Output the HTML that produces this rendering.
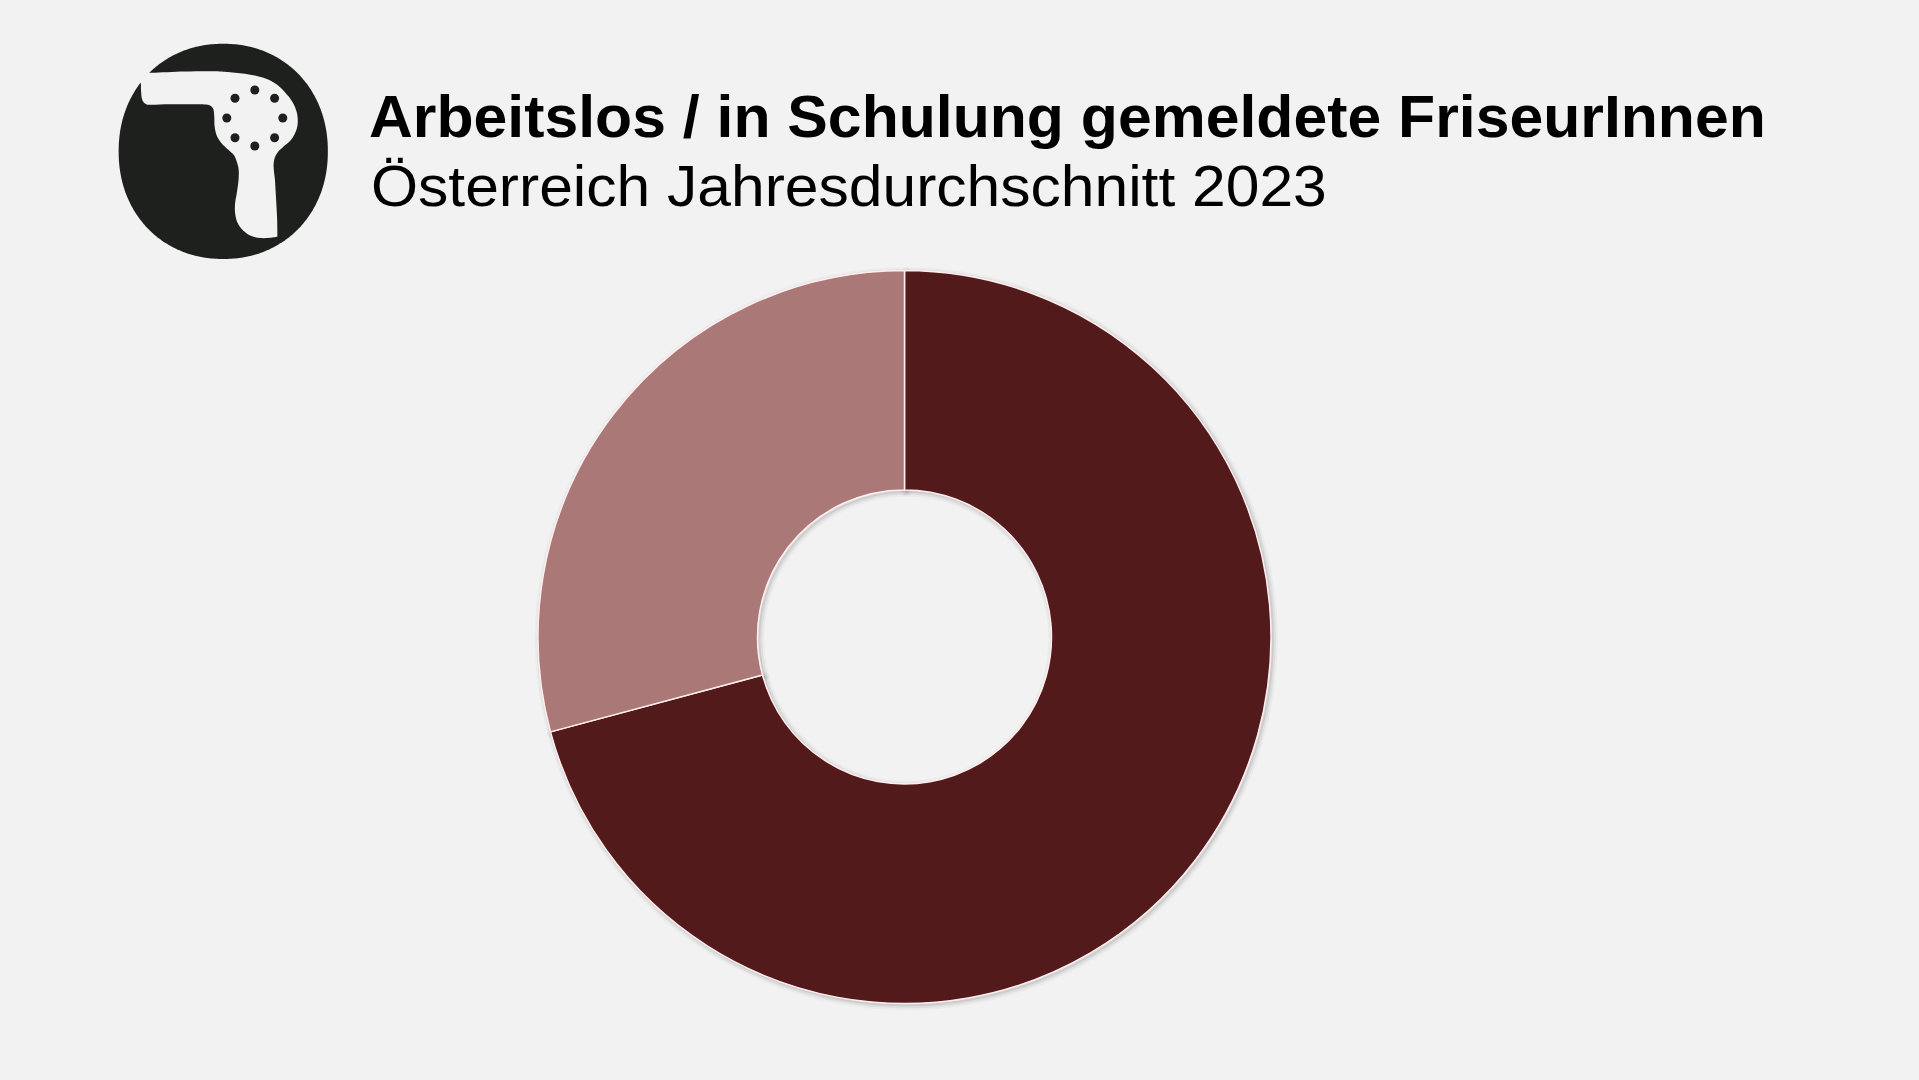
<!DOCTYPE html>
<html><head><meta charset="utf-8"><style>
html,body{margin:0;padding:0;}
body{width:1919px;height:1080px;background:#f2f2f2;position:relative;overflow:hidden;font-family:"Liberation Sans",sans-serif;color:#000;}
svg{position:absolute;left:0;top:0;}
.t{position:absolute;white-space:nowrap;line-height:1;transform-origin:0 0;}
#title{left:369px;top:87px;font-size:60px;font-weight:bold;transform:scaleX(1.012);}
#sub{left:370.5px;top:158px;font-size:57.5px;font-weight:normal;transform:scaleX(1.053);}
</style></head><body>
<svg width="1919" height="1080" viewBox="0 0 1919 1080">

<path d="M 327.85,151.40 L 327.83,153.68 L 327.79,155.81 L 327.71,157.88 L 327.61,159.92 L 327.47,161.93 L 327.30,163.92 L 327.11,165.90 L 326.88,167.85 L 326.62,169.79 L 326.34,171.71 L 326.02,173.62 L 325.67,175.51 L 325.30,177.39 L 324.89,179.25 L 324.45,181.10 L 323.99,182.94 L 323.49,184.76 L 322.97,186.56 L 322.42,188.35 L 321.83,190.13 L 321.22,191.89 L 320.58,193.64 L 319.92,195.37 L 319.22,197.08 L 318.49,198.78 L 317.74,200.46 L 316.96,202.12 L 316.16,203.77 L 315.32,205.40 L 314.46,207.01 L 313.57,208.60 L 312.65,210.17 L 311.71,211.72 L 310.75,213.26 L 309.75,214.77 L 308.73,216.27 L 307.69,217.74 L 306.62,219.19 L 305.52,220.62 L 304.40,222.03 L 303.26,223.42 L 302.09,224.79 L 300.90,226.13 L 299.68,227.45 L 298.44,228.75 L 297.18,230.02 L 295.90,231.27 L 294.59,232.50 L 293.27,233.70 L 291.92,234.88 L 290.54,236.03 L 289.15,237.16 L 287.74,238.26 L 286.31,239.33 L 284.86,240.38 L 283.38,241.40 L 281.89,242.40 L 280.38,243.37 L 278.85,244.31 L 277.31,245.22 L 275.74,246.11 L 274.16,246.97 L 272.56,247.80 L 270.94,248.60 L 269.31,249.38 L 267.66,250.12 L 265.99,250.84 L 264.31,251.52 L 262.61,252.18 L 260.90,252.81 L 259.17,253.41 L 257.43,253.98 L 255.68,254.52 L 253.91,255.03 L 252.12,255.51 L 250.32,255.95 L 248.51,256.37 L 246.69,256.76 L 244.85,257.12 L 242.99,257.44 L 241.12,257.74 L 239.24,258.00 L 237.34,258.24 L 235.43,258.44 L 233.49,258.61 L 231.53,258.75 L 229.55,258.86 L 227.53,258.94 L 225.46,258.98 L 223.25,259.00 L 221.04,258.98 L 218.97,258.94 L 216.95,258.86 L 214.97,258.75 L 213.01,258.61 L 211.07,258.44 L 209.16,258.24 L 207.26,258.00 L 205.38,257.74 L 203.51,257.44 L 201.65,257.12 L 199.81,256.76 L 197.99,256.37 L 196.18,255.95 L 194.38,255.51 L 192.59,255.03 L 190.82,254.52 L 189.07,253.98 L 187.33,253.41 L 185.60,252.81 L 183.89,252.18 L 182.19,251.52 L 180.51,250.84 L 178.84,250.12 L 177.19,249.38 L 175.56,248.60 L 173.94,247.80 L 172.34,246.97 L 170.76,246.11 L 169.19,245.22 L 167.65,244.31 L 166.12,243.37 L 164.61,242.40 L 163.12,241.40 L 161.64,240.38 L 160.19,239.33 L 158.76,238.26 L 157.35,237.16 L 155.96,236.03 L 154.58,234.88 L 153.23,233.70 L 151.91,232.50 L 150.60,231.27 L 149.32,230.02 L 148.06,228.75 L 146.82,227.45 L 145.60,226.13 L 144.41,224.79 L 143.24,223.42 L 142.10,222.03 L 140.98,220.62 L 139.88,219.19 L 138.81,217.74 L 137.77,216.27 L 136.75,214.77 L 135.75,213.26 L 134.79,211.72 L 133.85,210.17 L 132.93,208.60 L 132.04,207.01 L 131.18,205.40 L 130.34,203.77 L 129.54,202.12 L 128.76,200.46 L 128.01,198.78 L 127.28,197.08 L 126.58,195.37 L 125.92,193.64 L 125.28,191.89 L 124.67,190.13 L 124.08,188.35 L 123.53,186.56 L 123.01,184.76 L 122.51,182.94 L 122.05,181.10 L 121.61,179.25 L 121.20,177.39 L 120.83,175.51 L 120.48,173.62 L 120.16,171.71 L 119.88,169.79 L 119.62,167.85 L 119.39,165.90 L 119.20,163.92 L 119.03,161.93 L 118.89,159.92 L 118.79,157.88 L 118.71,155.81 L 118.67,153.68 L 118.65,151.40 L 118.67,149.12 L 118.71,146.99 L 118.79,144.92 L 118.89,142.88 L 119.03,140.87 L 119.20,138.88 L 119.39,136.90 L 119.62,134.95 L 119.88,133.01 L 120.16,131.09 L 120.48,129.18 L 120.83,127.29 L 121.20,125.41 L 121.61,123.55 L 122.05,121.70 L 122.51,119.86 L 123.01,118.04 L 123.53,116.24 L 124.08,114.45 L 124.67,112.67 L 125.28,110.91 L 125.92,109.16 L 126.58,107.43 L 127.28,105.72 L 128.01,104.02 L 128.76,102.34 L 129.54,100.68 L 130.34,99.03 L 131.18,97.40 L 132.04,95.79 L 132.93,94.20 L 133.85,92.63 L 134.79,91.08 L 135.75,89.54 L 136.75,88.03 L 137.77,86.53 L 138.81,85.06 L 139.88,83.61 L 140.98,82.18 L 142.10,80.77 L 143.24,79.38 L 144.41,78.01 L 145.60,76.67 L 146.82,75.35 L 148.06,74.05 L 149.32,72.78 L 150.60,71.53 L 151.91,70.30 L 153.23,69.10 L 154.58,67.92 L 155.96,66.77 L 157.35,65.64 L 158.76,64.54 L 160.19,63.47 L 161.64,62.42 L 163.12,61.40 L 164.61,60.40 L 166.12,59.43 L 167.65,58.49 L 169.19,57.58 L 170.76,56.69 L 172.34,55.83 L 173.94,55.00 L 175.56,54.20 L 177.19,53.42 L 178.84,52.68 L 180.51,51.96 L 182.19,51.28 L 183.89,50.62 L 185.60,49.99 L 187.33,49.39 L 189.07,48.82 L 190.82,48.28 L 192.59,47.77 L 194.38,47.29 L 196.18,46.85 L 197.99,46.43 L 199.81,46.04 L 201.65,45.68 L 203.51,45.36 L 205.38,45.06 L 207.26,44.80 L 209.16,44.56 L 211.07,44.36 L 213.01,44.19 L 214.97,44.05 L 216.95,43.94 L 218.97,43.86 L 221.04,43.82 L 223.25,43.80 L 225.46,43.82 L 227.53,43.86 L 229.55,43.94 L 231.53,44.05 L 233.49,44.19 L 235.43,44.36 L 237.34,44.56 L 239.24,44.80 L 241.12,45.06 L 242.99,45.36 L 244.85,45.68 L 246.69,46.04 L 248.51,46.43 L 250.32,46.85 L 252.12,47.29 L 253.91,47.77 L 255.68,48.28 L 257.43,48.82 L 259.17,49.39 L 260.90,49.99 L 262.61,50.62 L 264.31,51.28 L 265.99,51.96 L 267.66,52.68 L 269.31,53.42 L 270.94,54.20 L 272.56,55.00 L 274.16,55.83 L 275.74,56.69 L 277.31,57.58 L 278.85,58.49 L 280.38,59.43 L 281.89,60.40 L 283.38,61.40 L 284.86,62.42 L 286.31,63.47 L 287.74,64.54 L 289.15,65.64 L 290.54,66.77 L 291.92,67.92 L 293.27,69.10 L 294.59,70.30 L 295.90,71.53 L 297.18,72.78 L 298.44,74.05 L 299.68,75.35 L 300.90,76.67 L 302.09,78.01 L 303.26,79.38 L 304.40,80.77 L 305.52,82.18 L 306.62,83.61 L 307.69,85.06 L 308.73,86.53 L 309.75,88.03 L 310.75,89.54 L 311.71,91.08 L 312.65,92.63 L 313.57,94.20 L 314.46,95.79 L 315.32,97.40 L 316.16,99.03 L 316.96,100.68 L 317.74,102.34 L 318.49,104.02 L 319.22,105.72 L 319.92,107.43 L 320.58,109.16 L 321.22,110.91 L 321.83,112.67 L 322.42,114.45 L 322.97,116.24 L 323.49,118.04 L 323.99,119.86 L 324.45,121.70 L 324.89,123.55 L 325.30,125.41 L 325.67,127.29 L 326.02,129.18 L 326.34,131.09 L 326.62,133.01 L 326.88,134.95 L 327.11,136.90 L 327.30,138.88 L 327.47,140.87 L 327.61,142.88 L 327.71,144.92 L 327.79,146.99 L 327.83,149.12 Z" fill="#1e201d"/>
<path d="M 128.00,73.60 C 128.00,73.60 141.63,73.17 151.10,72.80 C 160.57,72.43 174.15,71.67 184.80,71.40 C 195.45,71.13 207.47,71.07 215.00,71.20 C 222.53,71.33 225.03,71.78 230.00,72.20 C 234.97,72.62 239.87,72.95 244.80,73.70 C 249.73,74.45 255.28,75.53 259.60,76.70 C 263.92,77.87 267.23,78.92 270.70,80.70 C 274.17,82.48 277.55,84.92 280.40,87.40 C 283.25,89.88 285.70,93.00 287.80,95.60 C 289.90,98.20 291.52,100.28 293.00,103.00 C 294.48,105.72 295.90,108.95 296.70,111.90 C 297.50,114.85 297.75,118.02 297.80,120.70 C 297.85,123.38 297.57,125.72 297.00,128.00 C 296.43,130.28 295.57,132.22 294.40,134.40 C 293.23,136.58 291.85,139.05 290.00,141.10 C 288.15,143.15 285.33,144.85 283.30,146.70 C 281.27,148.55 279.23,150.35 277.80,152.20 C 276.37,154.05 275.40,155.77 274.70,157.80 C 274.00,159.83 273.72,162.03 273.60,164.40 C 273.48,166.77 273.77,169.33 274.00,172.00 C 274.23,174.67 274.67,176.10 275.00,180.40 C 275.33,184.70 275.65,191.43 276.00,197.80 C 276.35,204.17 276.87,212.12 277.10,218.60 C 277.33,225.08 277.40,236.70 277.40,236.70 C 277.40,236.70 272.82,237.47 270.10,237.70 C 267.38,237.93 264.22,238.38 261.10,238.10 C 257.98,237.82 254.40,237.28 251.40,236.00 C 248.40,234.72 245.42,232.60 243.10,230.40 C 240.78,228.20 238.83,225.68 237.50,222.80 C 236.17,219.92 235.50,216.35 235.10,213.10 C 234.70,209.85 234.82,206.67 235.10,203.30 C 235.38,199.93 236.23,196.72 236.80,192.90 C 237.37,189.08 238.18,184.22 238.50,180.40 C 238.82,176.58 238.92,172.88 238.70,170.00 C 238.48,167.12 237.93,165.48 237.20,163.10 C 236.47,160.72 235.78,157.92 234.30,155.70 C 232.82,153.48 230.53,152.02 228.30,149.80 C 226.07,147.58 222.87,144.87 220.90,142.40 C 218.93,139.93 217.55,137.72 216.50,135.00 C 215.45,132.28 214.97,129.07 214.60,126.10 C 214.23,123.13 214.48,119.92 214.30,117.20 C 214.12,114.48 214.07,111.65 213.50,109.80 C 212.93,107.95 212.13,106.97 210.90,106.10 C 209.67,105.23 208.75,104.90 206.10,104.60 C 203.45,104.30 201.02,104.35 195.00,104.30 C 188.98,104.25 177.50,104.22 170.00,104.30 C 162.50,104.38 154.17,104.93 150.00,104.80 C 145.83,104.67 146.33,104.47 145.00,103.50 C 143.67,102.53 142.67,101.25 142.00,99.00 C 141.33,96.75 141.17,92.33 141.00,90.00 C 140.83,87.67 141.00,85.00 141.00,85.00 C 141.00,85.00 139.60,77.00 139.60,77.00 C 139.60,77.00 128.00,70.00 128.00,70.00 C 128.00,70.00 128.00,73.60 128.00,73.60 Z" fill="#f2f2f2"/>
<g fill="#1e201d"><circle cx="254.8" cy="90.0" r="4.5"/><circle cx="274.6" cy="98.2" r="4.5"/><circle cx="282.8" cy="118.0" r="4.5"/><circle cx="274.6" cy="137.8" r="4.5"/><circle cx="254.8" cy="146.0" r="4.5"/><circle cx="235.0" cy="137.8" r="4.5"/><circle cx="226.8" cy="118.0" r="4.5"/><circle cx="235.0" cy="98.2" r="4.5"/></g>
<g transform="translate(1.8,1.8)" fill="none" stroke="#000" stroke-linejoin="round"><path d="M 904.50,270.50 A 366.5,366.5 0 1 1 550.49,731.86 L 762.51,675.05 A 147,147 0 1 0 904.50,490.00 Z" stroke-opacity="0.027" stroke-width="10.00"/><path d="M 904.50,270.50 A 366.5,366.5 0 1 1 550.49,731.86 L 762.51,675.05 A 147,147 0 1 0 904.50,490.00 Z" stroke-opacity="0.053" stroke-width="6.00"/><path d="M 904.50,270.50 A 366.5,366.5 0 1 1 550.49,731.86 L 762.51,675.05 A 147,147 0 1 0 904.50,490.00 Z" stroke-opacity="0.080" stroke-width="2.00"/><path d="M 550.49,731.86 A 366.5,366.5 0 0 1 904.50,270.50 L 904.50,490.00 A 147,147 0 0 0 762.51,675.05 Z" stroke-opacity="0.027" stroke-width="10.00"/><path d="M 550.49,731.86 A 366.5,366.5 0 0 1 904.50,270.50 L 904.50,490.00 A 147,147 0 0 0 762.51,675.05 Z" stroke-opacity="0.053" stroke-width="6.00"/><path d="M 550.49,731.86 A 366.5,366.5 0 0 1 904.50,270.50 L 904.50,490.00 A 147,147 0 0 0 762.51,675.05 Z" stroke-opacity="0.080" stroke-width="2.00"/></g>
<path d="M 904.50,270.50 A 366.5,366.5 0 1 1 550.49,731.86 L 762.51,675.05 A 147,147 0 1 0 904.50,490.00 Z" fill="#531a1c" stroke="#ffeeee" stroke-width="1.5" stroke-linejoin="round"/>
<path d="M 550.49,731.86 A 366.5,366.5 0 0 1 904.50,270.50 L 904.50,490.00 A 147,147 0 0 0 762.51,675.05 Z" fill="#aa7876" stroke="#ffeeee" stroke-width="1.5" stroke-linejoin="round"/>
</svg>
<div class="t" id="title">Arbeitslos / in Schulung gemeldete FriseurInnen</div>
<div class="t" id="sub">Österreich Jahresdurchschnitt 2023</div>
</body></html>
